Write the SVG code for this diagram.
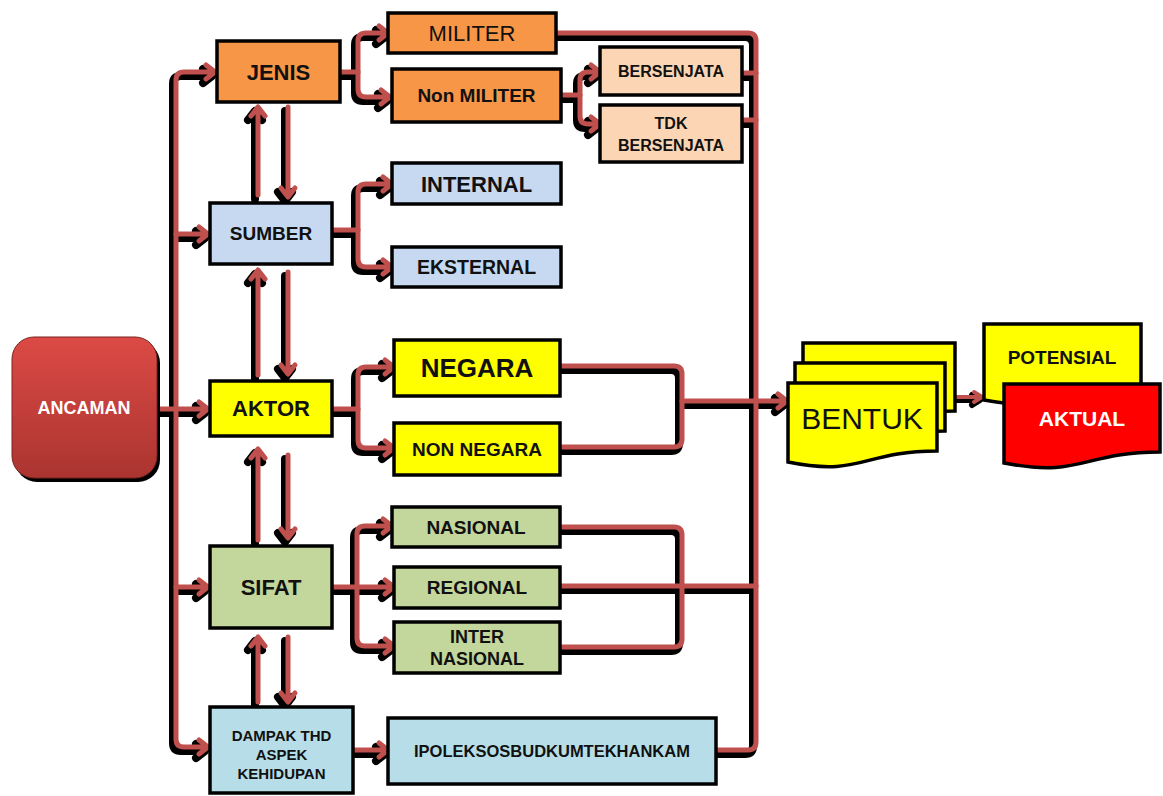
<svg xmlns="http://www.w3.org/2000/svg" xmlns:xlink="http://www.w3.org/1999/xlink" width="1163" height="796" viewBox="0 0 1163 796">
<style>
.b{stroke:#000;stroke-width:3.5}
.t{font-family:"Liberation Sans",Arial,sans-serif;font-weight:bold;fill:#111;text-anchor:middle}
.n{font-weight:normal}
.or{fill:#f79646}.lb{fill:#c6d9f1}.ye{fill:#ffff00}.gr{fill:#c3d69b}.cy{fill:#b7dee8}.pe{fill:#fcd5b5}
.sh{stroke:#000;stroke-width:8}
.rd{stroke:#c0504d;stroke-width:5}
</style>
<defs>
<linearGradient id="rg" x1="0" y1="0" x2="0" y2="1">
<stop offset="0" stop-color="#dc4a45"/>
<stop offset="1" stop-color="#ab3430"/>
</linearGradient>
<g id="cn" fill="none" stroke-linecap="round" stroke-linejoin="round">
<path d="M213,72 H184 Q176,72 176,80 V739 Q176,747 184,747 H206 M206,65 L215,72 L206,79 M199,740 L208,747 L199,754"/>
<path d="M176,234 H206 M199,227 L208,234 L199,241"/>
<path d="M157,409 H206 M199,402 L208,409 L199,416"/>
<path d="M176,587 H206 M199,580 L208,587 L199,594"/>
<path d="M258,195 V109 M251,116 L258,107 L265,116"/>
<path d="M288,107 V195 M281,188 L288,197 L295,188"/>
<path d="M258,375 V272 M251,279 L258,270 L265,279"/>
<path d="M288,272 V372 M281,365 L288,374 L295,365"/>
<path d="M258,540 V451 M251,458 L258,449 L265,458"/>
<path d="M288,455 V536 M281,529 L288,538 L295,529"/>
<path d="M258,702 V639 M251,646 L258,637 L265,646"/>
<path d="M288,637 V700 M281,693 L288,702 L295,693"/>
<path d="M340,72 H358"/>
<path d="M386,33 H366 Q358,33 358,41 V89 Q358,97 366,97 H388 M379,26 L388,33 L379,40 M381,90 L390,97 L381,104"/>
<path d="M561,95 H580"/>
<path d="M598,72 H588 Q580,72 580,80 V116 Q580,124 588,124 H598 M591,65 L600,72 L591,79 M591,117 L600,124 L591,131"/>
<path d="M332,230 H358"/>
<path d="M390,184 H366 Q358,184 358,192 V259 Q358,267 366,267 H390 M383,177 L392,184 L383,191 M383,260 L392,267 L383,274"/>
<path d="M332,409 H358"/>
<path d="M392,367 H366 Q358,367 358,375 V440 Q358,448 366,448 H392 M385,360 L394,367 L385,374 M385,441 L394,448 L385,455"/>
<path d="M332,587 H392 M385,580 L394,587 L385,594"/>
<path d="M390,526 H365 Q357,526 357,534 V638 Q357,646 365,646 H392 M383,519 L392,526 L383,533 M385,639 L394,646 L385,653"/>
<path d="M556,33 H748 Q756,33 756,41 V742 Q756,750 748,750 H716"/>
<path d="M742,73 H756"/>
<path d="M742,120 H756"/>
<path d="M560,586 H756"/>
<path d="M560,366 H674 Q682,366 682,374 V439 Q682,447 674,447 H560"/>
<path d="M682,401 H785 M778,394 L787,401 L778,408"/>
<path d="M560,527 H674 Q682,527 682,535 V639 Q682,647 674,647 H560"/>
<path d="M353,750 H386 M379,743 L388,750 L379,757"/>
</g>
<g id="cn2" fill="none" stroke-linecap="round" stroke-linejoin="round">
<path d="M955,397 H980 M974,392 L982,397 L974,402"/>
</g>
</defs>

<g id="connectors">
<use xlink:href="#cn" href="#cn" class="sh" transform="translate(-3,4)"/>
<use xlink:href="#cn" href="#cn" class="rd"/>
<use xlink:href="#cn2" href="#cn2" stroke="#000" stroke-width="6" transform="translate(-2,3)"/>
<use xlink:href="#cn2" href="#cn2" stroke="#c0504d" stroke-width="4"/>
</g>

<g id="ancaman">
<rect x="15" y="341" width="145" height="141" rx="22" fill="#000"/>
<rect x="12" y="337" width="145" height="141" rx="22" fill="url(#rg)" stroke="#7a2220" stroke-width="1"/>
<text x="84" y="414" class="t" font-size="18" style="fill:#fff">ANCAMAN</text>
</g>

<g id="jenis"><rect x="217" y="41" width="123" height="61" class="b or"/><text x="278.5" y="80" class="t" font-size="22">JENIS</text></g>
<g id="militer"><rect x="388" y="13" width="168" height="40" class="b or"/><text x="472" y="41" class="t n" font-size="22">MILITER</text></g>
<g id="nonmiliter"><rect x="392" y="69" width="169" height="53" class="b or"/><text x="476.5" y="102" class="t" font-size="19">Non MILITER</text></g>
<g id="bersenjata"><rect x="600" y="47" width="142" height="48" class="b pe"/><text x="671" y="77" class="t" font-size="16">BERSENJATA</text></g>
<g id="tdkbersenjata"><rect x="600" y="105" width="142" height="57" class="b pe"/><text x="671" y="129" class="t" font-size="16">TDK</text><text x="671" y="151" class="t" font-size="16">BERSENJATA</text></g>

<g id="sumber"><rect x="210" y="203" width="122" height="61" class="b lb"/><text x="271" y="240" class="t" font-size="19">SUMBER</text></g>
<g id="internal"><rect x="392" y="163" width="169" height="41" class="b lb"/><text x="476.5" y="192" class="t" font-size="22">INTERNAL</text></g>
<g id="eksternal"><rect x="392" y="247" width="169" height="40" class="b lb"/><text x="476.5" y="274" class="t" font-size="19.5">EKSTERNAL</text></g>

<g id="aktor"><rect x="210" y="381" width="122" height="55" class="b ye"/><text x="271" y="416" class="t" font-size="22">AKTOR</text></g>
<g id="negara"><rect x="394" y="340" width="166" height="56" class="b ye"/><text x="477" y="377" class="t" font-size="26">NEGARA</text></g>
<g id="nonnegara"><rect x="394" y="423" width="166" height="52" class="b ye"/><text x="477" y="456" class="t" font-size="19">NON NEGARA</text></g>

<g id="sifat"><rect x="210" y="546" width="122" height="82" class="b gr"/><text x="271" y="595" class="t" font-size="22">SIFAT</text></g>
<g id="nasional"><rect x="392" y="507" width="168" height="40" class="b gr"/><text x="476" y="534" class="t" font-size="19">NASIONAL</text></g>
<g id="regional"><rect x="394" y="567" width="166" height="41" class="b gr"/><text x="477" y="594" class="t" font-size="19">REGIONAL</text></g>
<g id="internasional"><rect x="394" y="622" width="166" height="51" class="b gr"/><text x="477" y="643" class="t" font-size="18">INTER</text><text x="477" y="665" class="t" font-size="18">NASIONAL</text></g>

<g id="dampak"><rect x="210" y="707" width="143" height="86" class="b cy"/><text x="281.5" y="741" class="t" font-size="15">DAMPAK THD</text><text x="281.5" y="760" class="t" font-size="15">ASPEK</text><text x="281.5" y="779" class="t" font-size="15">KEHIDUPAN</text></g>
<g id="ipoleks"><rect x="388" y="718" width="328" height="66" class="b cy"/><text x="552" y="757" class="t" font-size="16.5">IPOLEKSOSBUDKUMTEKHANKAM</text></g>

<g id="bentuk">
<path d="M803,343 H955 V411 C879,411 879,437 803,422 Z" class="b ye"/>
<path d="M795,363 H945 V431 C870,431 870,457 795,442 Z" class="b ye"/>
<path d="M788,383 H937 V451 C862,451 862,477 788,462 Z" class="b ye"/>
<text x="862" y="429" class="t n" font-size="30">BENTUK</text>
</g>

<g id="potensial">
<path d="M984,324 H1141 V389 C1062,389 1062,414 984,400 Z" class="b ye"/>
<text x="1062" y="364" class="t" font-size="19">POTENSIAL</text>
</g>
<g id="aktual">
<path d="M1004,384 H1160 V452 C1082,452 1082,478 1004,463 Z" class="b" fill="#ff0000"/>
<text x="1082" y="426" class="t" font-size="21" style="fill:#fff">AKTUAL</text>
</g>
</svg>
